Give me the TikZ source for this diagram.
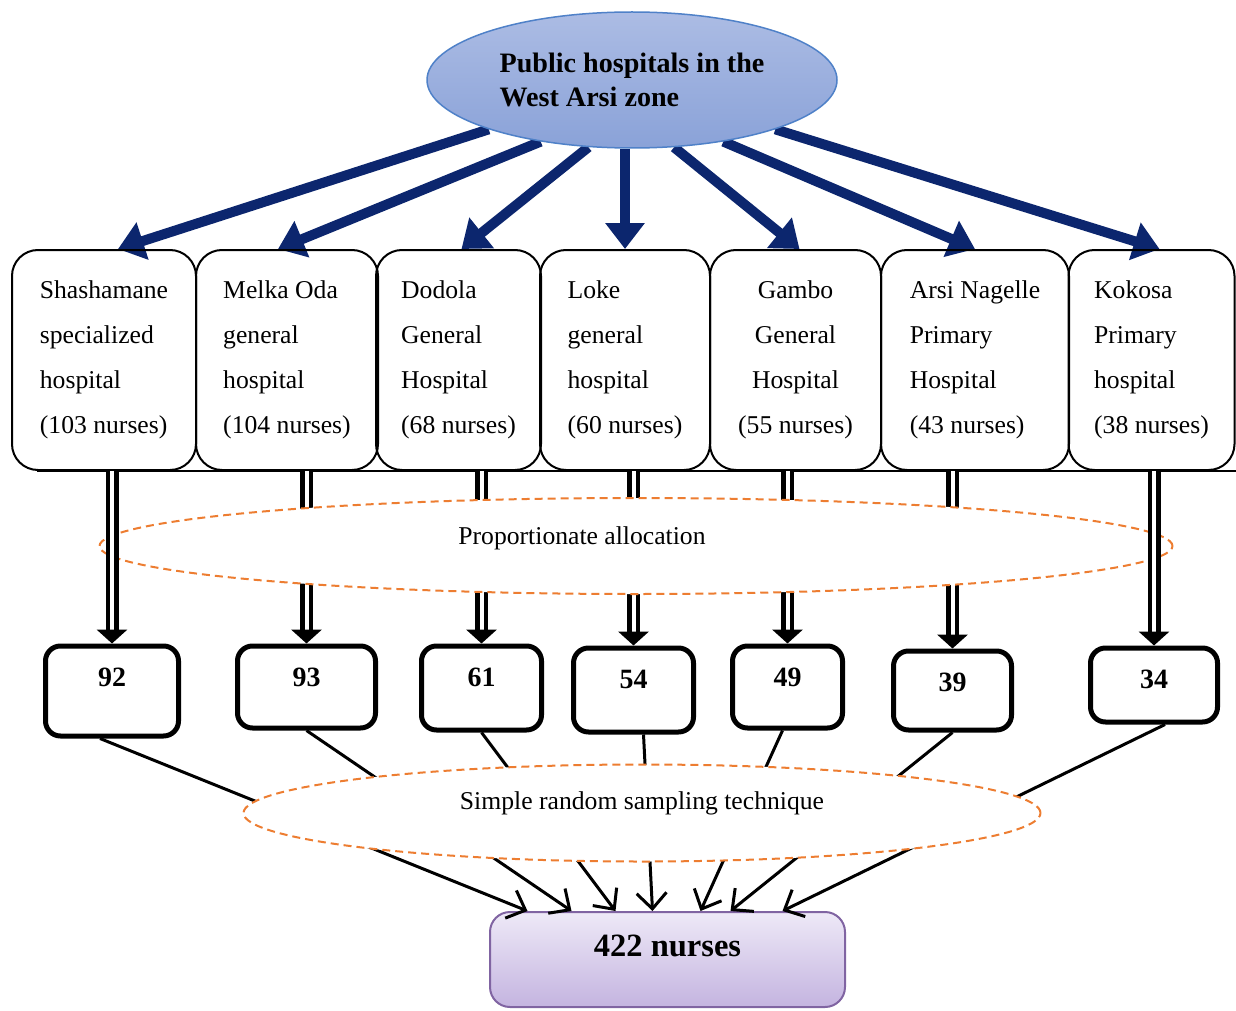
\documentclass[tikz,border=0pt]{standalone}
\usepackage{fontspec}
\setmainfont{Liberation Serif}
\usetikzlibrary{arrows.meta,shapes.geometric,backgrounds}
\newdimen\pxu
\pxu=0.02cm
\definecolor{navy}{RGB}{12,38,110}
\definecolor{zoneblue}{RGB}{79,129,200}
\definecolor{zonetop}{RGB}{172,188,228}
\definecolor{zonebottom}{RGB}{138,162,216}
\definecolor{allocorange}{RGB}{237,125,49}
\definecolor{totalpurple}{RGB}{128,100,162}
\definecolor{totaltop}{RGB}{238,233,247}
\definecolor{totalbottom}{RGB}{196,180,224}

\begin{document}
\begin{tikzpicture}[x=1\pxu, y=-1\pxu,
    zone/.style={ellipse, draw=zoneblue, line width=1.5\pxu, top color=zonetop, bottom color=zonebottom,
        minimum width=410\pxu, minimum height=136\pxu, inner sep=0pt, align=left,
        font=\fontsize{16}{19.8}\selectfont\bfseries},
    hospbox/.style={draw, line width=2\pxu, rounded corners=26\pxu, minimum height=220\pxu,
        inner sep=2\pxu, align=left, font=\fontsize{14.6}{25.5}\selectfont},
    numbox/.style 2 args={draw, line width=5\pxu, rounded corners=15\pxu, anchor=north, inner sep=0pt,
        minimum width=#1\pxu, text height=40\pxu, text depth=#2\pxu,
        font=\fontsize{15.9}{18}\selectfont\bfseries},
    dashell/.style={ellipse, draw=allocorange, line width=2\pxu, dash pattern=on 8\pxu off 5\pxu,
        fill=white, inner sep=0pt},
    totalbox/.style={draw=totalpurple, line width=2\pxu, rounded corners=20\pxu, top color=totaltop,
        bottom color=totalbottom, minimum width=355\pxu, inner sep=0pt, text height=44\pxu,
        text depth=51\pxu, font=\fontsize{18.5}{22}\selectfont\bfseries},
    zonearrow/.style={draw=navy, line width=10\pxu, -{Triangle[length=14.7pt, width=21.5pt]}},
    splitarrow/.style={double, double distance=4\pxu, line width=4.5\pxu,
        -{Triangle[length=7.9pt, width=17pt]}},
    samplearrow/.style={line width=3\pxu, -{Straight Barb[length=9pt, width=17pt]}}
]
    \useasboundingbox (0,0) rectangle (1236,1010);

    % Zone and hospitals
    \node [zone] (zone) at (632,80) {Public hospitals in the\\West Arsi zone};
    \node [hospbox, minimum width=184\pxu] (h1) at (104,360) {Shashamane\\specialized\\hospital\\(103 nurses)};
    \node [hospbox, minimum width=182\pxu] (h2) at (287,360) {Melka Oda\\general\\hospital\\(104 nurses)};
    \node [hospbox, minimum width=165\pxu] (h3) at (458.5,360) {Dodola\\General\\Hospital\\(68 nurses)};
    \node [hospbox, minimum width=170\pxu] (h4) at (625,360) {Loke\\general\\hospital\\(60 nurses)};
    \node [hospbox, minimum width=171\pxu, align=center] (h5) at (795.5,360) {Gambo\\General\\Hospital\\(55 nurses)};
    \node [hospbox, minimum width=188\pxu] (h6) at (975,360) {Arsi Nagelle\\Primary\\Hospital\\(43 nurses)};
    \node [hospbox, minimum width=166\pxu] (h7) at (1151.5,360) {Kokosa\\Primary\\hospital\\(38 nurses)};

    \begin{scope}[on background layer]
        \draw [zonearrow] (zone.199) -- ([xshift=14\pxu]h1.north);
        \draw [zonearrow] (zone.214) -- ([xshift=-9\pxu]h2.north);
        \draw [zonearrow] (zone.237) -- ([xshift=3\pxu]h3.north);
        \draw [zonearrow] (h4.north |- zone.south) -- (h4.north);
        \draw [zonearrow] (zone.302) -- ([xshift=4\pxu]h5.north);
        \draw [zonearrow] (zone.326) -- (h6.north);
        \draw [zonearrow] (zone.341) -- ([xshift=8\pxu]h7.north);
    \end{scope}

    % Rule under the hospital boxes
    \coordinate (rulel) at (37,471);
    \coordinate (ruler) at (1236,471);
    \draw [line width=2.5\pxu] (rulel) -- (ruler);

    % Allocated sample sizes
    \node [numbox={133}{50}] (n1) at (112,643.5) {92};
    \node [numbox={138}{42}] (n2) at (306.5,643.5) {93};
    \node [numbox={120}{44}] (n3) at (481.5,643.5) {61};
    \node [numbox={120}{44}] (n4) at (633.5,645.5) {54};
    \node [numbox={110}{42}] (n5) at (787.5,643.5) {49};
    \node [numbox={118}{39}] (n6) at (952.5,648.5) {39};
    \node [numbox={127}{34}] (n7) at (1154,645.5) {34};

    \draw [splitarrow] (n2.north |- h2.south) -- (n2.north);
    \draw [splitarrow] (n3.north |- h3.south) -- (n3.north);
    \draw [splitarrow] (n4.north |- h4.south) -- (n4.north);
    \draw [splitarrow] (n5.north |- h5.south) -- (n5.north);
    \draw [splitarrow] (n6.north |- h6.south) -- (n6.north);

    \node [dashell, minimum width=1073\pxu, minimum height=96\pxu] (alloc) at (636,546) {};
    \node [font=\fontsize{14.6}{18}\selectfont] (alloctext) at (582,538) {Proportionate allocation};

    \draw [splitarrow] (n1.north |- h1.south) -- (n1.north);
    \draw [splitarrow] (n7.north |- h7.south) -- (n7.north);

    % Total sample
    \node [totalbox] (total) at (667.5,959.5) {422 nurses};

    \draw [samplearrow] ([xshift=-12\pxu]n1.south) -- ([xshift=-140\pxu]total.north);
    \draw [samplearrow] (n2.south) -- ([xshift=-96\pxu]total.north);
    \draw [samplearrow] (n3.south) -- ([xshift=-52\pxu]total.north);
    \draw [samplearrow] ([xshift=10\pxu]n4.south) -- ([xshift=-15\pxu]total.north);
    \draw [samplearrow] ([xshift=-5\pxu]n5.south) -- ([xshift=33\pxu]total.north);
    \draw [samplearrow] (n6.south) -- ([xshift=63\pxu]total.north);
    \draw [samplearrow] ([xshift=11\pxu]n7.south) -- ([xshift=115\pxu]total.north);

    \node [dashell, minimum width=797\pxu, minimum height=97\pxu] (random) at (642,813) {};
    \node [font=\fontsize{14.6}{18}\selectfont] (randomtext) at (642,803) {Simple random sampling technique};
\end{tikzpicture}
\end{document}
